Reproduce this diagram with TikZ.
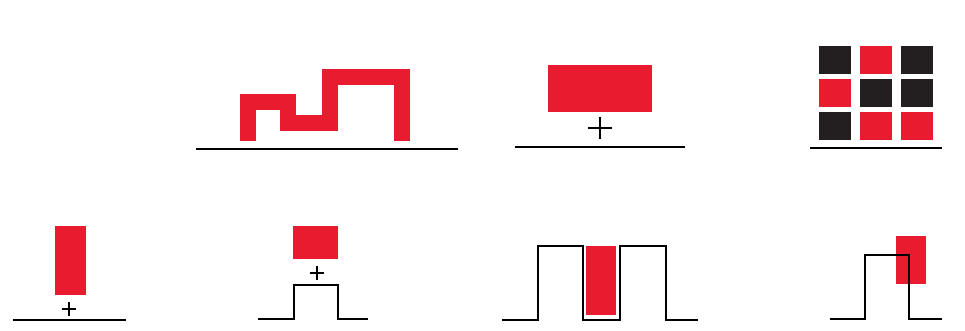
\documentclass[tikz,border=0pt]{standalone}
\usetikzlibrary{positioning}
\definecolor{pinred}{RGB}{232,28,46}
\definecolor{pindark}{RGB}{35,31,32}

\begin{document}
\begin{tikzpicture}[x=0.02cm, y=-0.02cm,
    ground/.style={draw=black, line width=1.1pt},
    block/.style={fill=pinred},
    cell/.style={minimum width=0.64cm, minimum height=0.56cm, inner sep=0pt, draw=none},
    centre/.style={draw=black, line width=0.8pt}]
    \useasboundingbox (0,0) rectangle (965,331);

    % top row
    \draw[draw=pinred, line width=0.32cm, miter limit=10] (248,141) -- (248,102) -- (288,102) -- (288,123)
        -- (330,123) -- (330,77) -- (402,77) -- (402,141);
    \draw[ground] (196,149) -- (458,149);

    \fill[block] (548,65) rectangle (652,112);
    \draw[centre] (588,128) -- (612,128) (600,117) -- (600,139);
    \draw[ground] (515,147) -- (685,147);

    \foreach \col/\row/\c in {0/0/pindark, 1/0/pinred, 2/0/pindark,
                              0/1/pinred, 1/1/pindark, 2/1/pindark,
                              0/2/pindark, 1/2/pinred, 2/2/pinred}
        \node[cell, fill=\c] (sq\col\row) at (835+41*\col, 60+33*\row) {};
    \draw[ground] (810,148) -- (942,148);

    % bottom row
    \fill[block] (55,226) rectangle (86,295);
    \draw[centre] (62,309) -- (76,309) (69,302) -- (69,316);
    \draw[ground] (13,320) -- (126,320);

    \fill[block] (293,226) rectangle (338,259);
    \draw[centre] (310,273) -- (324,273) (317,266) -- (317,280);
    \draw[ground] (258,319) -- (294,319) -- (294,285) -- (338,285) -- (338,319) -- (368,319);

    \fill[block] (586,246) rectangle (616,315);
    \draw[ground] (502,320) -- (538,320) -- (538,246) -- (583,246) -- (583,320) -- (620,320)
        -- (620,246) -- (666,246) -- (666,320) -- (698,320);

    \fill[block] (896,236) rectangle (926,284);
    \draw[ground] (830,319) -- (865,319) -- (865,255) -- (909,255) -- (909,319) -- (942,319);
\end{tikzpicture}
\end{document}
